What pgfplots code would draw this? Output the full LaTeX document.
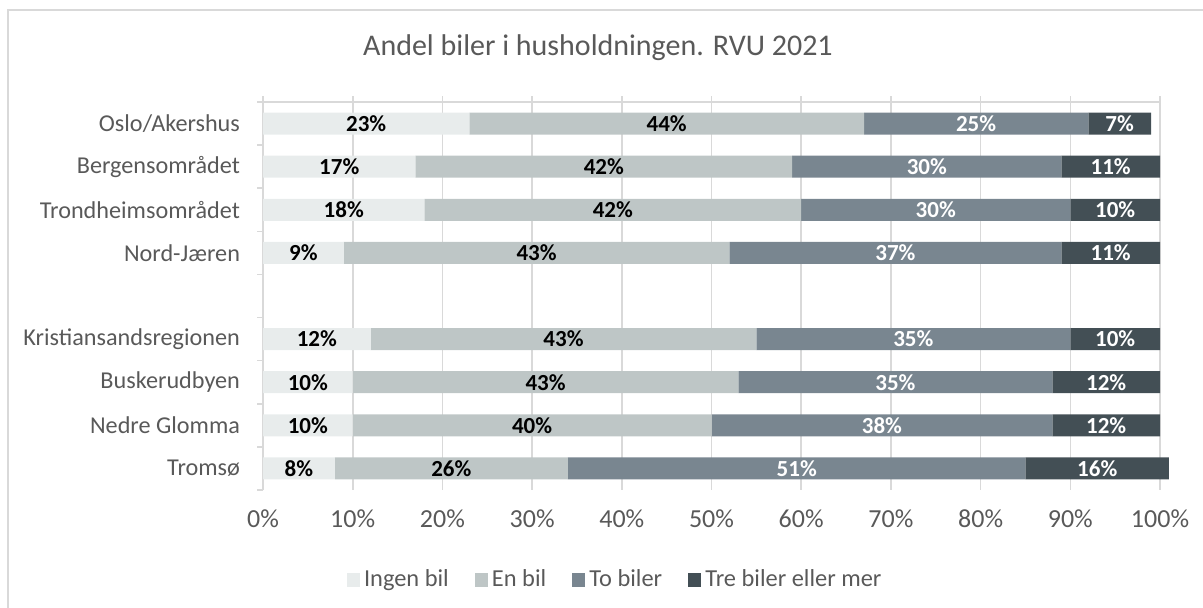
\documentclass[border=0pt]{standalone}
\usepackage{fontspec}
\setmainfont{Carlito}
\usepackage{pgfplots}
\usepackage{pgfplotstable}
\pgfplotsset{compat=1.18}

\definecolor{ingen}{HTML}{E8ECEC}
\definecolor{enbil}{HTML}{BEC6C6}
\definecolor{tobil}{HTML}{798690}
\definecolor{trebil}{HTML}{434F55}
\definecolor{gridc}{HTML}{D9D9D9}
\definecolor{txt}{HTML}{595959}

% andel (%) per region; rad 4 er tom (mellomrom i figuren)
\pgfplotstableread{
row a  b  c  d
0   23 44 25 7
1   17 42 30 11
2   18 42 30 10
3   9  43 37 11
5   12 43 35 10
6   10 43 35 12
7   10 40 38 12
8   8  26 51 16
}\biler

% with anchor=center the stacked labels already sit in the middle of each segment
\pgfplotsset{
  seg/.style n args={3}{
    fill=#1, draw=none,
    point meta=explicit,
    nodes near coords={\pgfmathprintnumber[assume math mode=true]{\pgfplotspointmeta}\%},
    every node near coord/.append style={
      anchor=center, text=#3,
      font=\fontsize{11.5}{13}\selectfont\bfseries},
  },
}

\begin{document}
\begin{tikzpicture}
\useasboundingbox (0,0) rectangle (601.5pt,303.5pt);
\draw[gridc, line width=0.7pt] (4pt,-10pt) -- (4pt,298.5pt) -- (620pt,298.5pt);
\node[text=txt, font=\fontsize{15}{18}\selectfont] at (299pt,279.5pt)
  {Andel biler i husholdningen. RVU 2021};
\begin{axis}[
  at={(131.5pt,58.5pt)}, anchor=south west,
  scale only axis, width=448.5pt, height=194pt,
  xbar stacked, bar width=11pt,
  xmin=0, xmax=100, ymin=-0.5, ymax=8.5, y dir=reverse,
  xtick={0,10,...,100},
  xticklabel={\pgfmathprintnumber[assume math mode=true]{\tick}\%},
  ytick={0,1,2,3,5,6,7,8},
  yticklabels={Oslo/Akershus, Bergensområdet, Trondheimsområdet, Nord-Jæren,
    Kristiansandsregionen, Buskerudbyen, Nedre Glomma, Tromsø\hspace{2pt}},
  major tick length=0pt,
  axis line style={draw=none},
  xmajorgrids, grid style={gridc, line width=0.8pt},
  tick label style={text=txt},
  xticklabel style={font=\fontsize{13}{15}\selectfont, yshift=-6.5pt},
  yticklabel style={font=\fontsize{12.1}{14}\selectfont, xshift=-8pt},
  clip=false,
  legend columns=4,
  legend style={at={(0.3937,-0.232)}, anchor=center, draw=none, fill=none,
    font=\fontsize{12.2}{14}\selectfont, text=txt,
    /tikz/every even column/.append style={column sep=11pt},
    /tikz/every odd column/.append style={column sep=0pt}},
  legend image code/.code={\fill[#1] (0pt,-3.4pt) rectangle (6.6pt,3.4pt);},
]
\addplot[seg={ingen}{a}{black}] table[x=a, y=row, meta=a] {\biler};
\addplot[seg={enbil}{b}{black}] table[x=b, y=row, meta=b] {\biler};
\addplot[seg={tobil}{c}{white}] table[x=c, y=row, meta=c] {\biler};
\addplot[seg={trebil}{d}{white}] table[x=d, y=row, meta=d] {\biler};
\legend{Ingen bil, En bil, To biler, Tre biler eller mer}
\draw[gridc, line width=0.8pt] (axis cs:0,-0.5) -- (axis cs:100,-0.5);
\draw[gridc, line width=0.8pt] (axis cs:0,-0.5) ++(0pt,3pt) -- (axis cs:0,8.5);
\pgfplotsinvokeforeach{-0.5,0.5,1.5,2.5,3.5,4.5,5.5,6.5,7.5,8.5}{
  \draw[gridc, line width=0.8pt] (axis cs:0,#1) -- ++(-3pt,0pt);}
\pgfplotsinvokeforeach{10,20,30,40,50,60,70,80,90,100}{
  \draw[gridc, line width=0.8pt] (axis cs:#1,-0.5) -- ++(0pt,3pt);}
\end{axis}
\end{tikzpicture}
\end{document}
